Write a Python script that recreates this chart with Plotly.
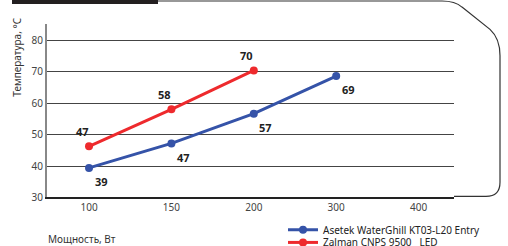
import plotly.graph_objects as go

categories = ["100", "150", "200", "300", "400"]
asetek_x = ["100", "150", "200", "300"]
asetek_y = [39.4, 47.2, 56.7, 68.7]
asetek_labels = ["39", "47", "57", "69"]
zalman_x = ["100", "150", "200"]
zalman_y = [46.3, 58.1, 70.5]
zalman_labels = ["47", "58", "70"]
y_ticks = [30, 40, 50, 60, 70, 80]

W, H = 508, 246          # reference picture size
H_FIG = 257              # figure height (compensates the vertical squeeze seen in the photo)
L, R, T, B = 47, 454, 24, 195
FONT = "Noto Sans"
SY = H_FIG / H

def px(x):
    return x / W

def py(y):
    return 1 - y / H

BLUE = "#3553a8"
RED = "#ee2a2d"

fig = go.Figure()
fig.add_trace(go.Scatter(x=asetek_x, y=asetek_y, mode="lines+markers",
                         name="Asetek WaterGhill KT03-L20 Entry", legend="legend",
                         line=dict(color=BLUE, width=3), marker=dict(size=8, color=BLUE)))
fig.add_trace(go.Scatter(x=zalman_x, y=zalman_y, mode="lines+markers",
                         name="Zalman CNPS 9500   LED", legend="legend2",
                         line=dict(color=RED, width=3), marker=dict(size=8, color=RED)))

ann = []
for xv, yv, t in zip(asetek_x, asetek_y, asetek_labels):
    ann.append(dict(x=categories.index(xv), y=yv, text="<b>" + t + "</b>", showarrow=False,
                    xshift=12, yshift=-13 * SY, font=dict(family=FONT, size=11, color="#222")))
for xv, yv, t in zip(zalman_x, zalman_y, zalman_labels):
    ann.append(dict(x=categories.index(xv), y=yv, text="<b>" + t + "</b>", showarrow=False,
                    xshift=-7, yshift=14 * SY, font=dict(family=FONT, size=11, color="#222")))

ann.append(dict(xref="paper", yref="paper", x=px(17), y=py(57), xanchor="center",
                yanchor="middle", text="Температура, °C", textangle=-90, showarrow=False,
                font=dict(family=FONT, size=10, color="#333")))
ann.append(dict(xref="paper", yref="paper", x=px(46), y=py(236), xanchor="left",
                yanchor="middle", text="Мощность, Вт", showarrow=False,
                font=dict(family=FONT, size=10, color="#333")))

frame = (f"M{px(158)},{py(1)} L{px(442)},{py(1)} Q{px(455)},{py(1)} {px(462)},{py(7)} "
         f"L{px(490)},{py(29)} Q{px(500)},{py(38)} {px(500)},{py(55)} L{px(500)},{py(180)} "
         f"Q{px(500)},{py(194)} {px(486)},{py(194)} L{px(454)},{py(194)}")

shapes = [
    dict(type="rect", xref="paper", yref="paper", x0=px(12), x1=px(158), y0=py(4), y1=py(0),
         fillcolor="#231f20", line=dict(width=0)),
    dict(type="path", xref="paper", yref="paper", path=frame, line=dict(color="#333", width=1.2)),
]

leg_common = dict(xanchor="left", yanchor="middle",
                  font=dict(family=FONT, size=10, color="#222"),
                  bgcolor="rgba(0,0,0,0)", itemwidth=30)

fig.update_layout(
    width=W, height=H_FIG,
    margin=dict(l=0, r=0, t=0, b=0),
    paper_bgcolor="white", plot_bgcolor="white",
    annotations=ann, shapes=shapes,
    showlegend=True,
    legend=dict(x=px(283), y=py(227), **leg_common),
    legend2=dict(x=px(283), y=py(239.5), **leg_common),
    xaxis=dict(domain=[L / W, R / W], type="category", categoryorder="array",
               categoryarray=categories,
               range=[-0.51, 4.43], showgrid=False, zeroline=False,
               showline=True, linecolor="#222", linewidth=2,
               tickfont=dict(family=FONT, size=10, color="#444"), ticks=""),
    yaxis=dict(domain=[1 - B / H, 1 - T / H], range=[30, 85.2], tickvals=y_ticks,
               showgrid=True, gridcolor="#444", gridwidth=1,
               zeroline=False, showline=True, linecolor="#888", linewidth=2,
               tickfont=dict(family=FONT, size=10, color="#444"), ticks=""),
)
post = ("document.documentElement.style.overflow='hidden';"
        "document.documentElement.style.margin='0';"
        "document.body.style.margin='0';document.body.style.padding='0';"
        "document.body.style.overflow='hidden';")
fig.write_html("out.html", post_script=post, config={"displayModeBar": False})
